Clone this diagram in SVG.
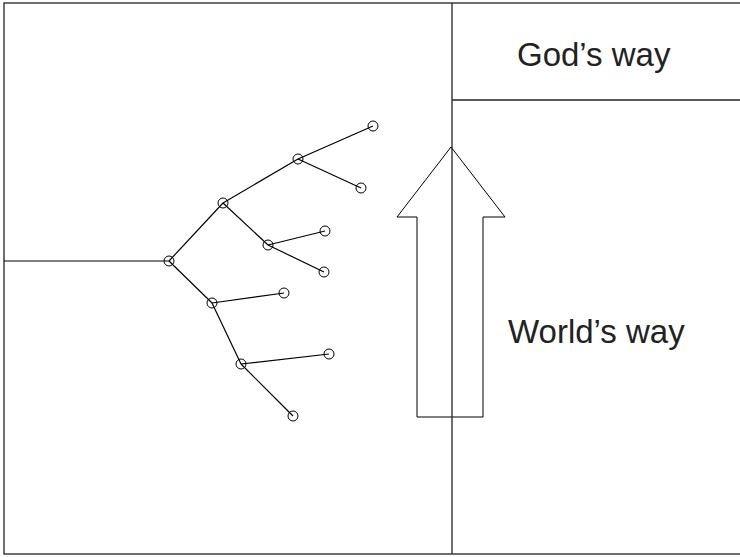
<svg xmlns="http://www.w3.org/2000/svg" width="740" height="557" viewBox="0 0 740 557">
<style>
.frame{fill:none;stroke:#222;stroke-width:1.3}
.edge{stroke:#000;stroke-width:1.2;fill:none}
.node{fill:none;stroke:#000;stroke-width:1}
.arrow{fill:#fff;stroke:#000;stroke-width:1}
.lbl{font-family:"Liberation Sans",Arial,sans-serif;font-size:33px;fill:#222}
</style>
<rect width="740" height="557" fill="#fff"/>
<g id="frame">
<rect class="frame" x="4" y="3" width="745" height="551"/>
<line class="frame" x1="452" y1="100" x2="745" y2="100"/>
</g>
<g id="worlds-way-arrow">
<polygon class="arrow" points="451,147 505,217 483,217 483,417 417,417 417,217 397,217"/>
</g>
<line class="frame" x1="452" y1="3" x2="452" y2="554"/>
<g id="connectors">
<line class="edge" x1="4" y1="261" x2="169" y2="261"/>
<line class="edge" x1="169" y1="261" x2="223" y2="203"/>
<line class="edge" x1="223" y1="203" x2="298" y2="159"/>
<line class="edge" x1="298" y1="159" x2="373" y2="126"/>
<line class="edge" x1="298" y1="159" x2="361" y2="188"/>
<line class="edge" x1="223" y1="203" x2="268" y2="245"/>
<line class="edge" x1="268" y1="245" x2="325" y2="231"/>
<line class="edge" x1="268" y1="245" x2="324" y2="272"/>
<line class="edge" x1="169" y1="261" x2="212" y2="303"/>
<line class="edge" x1="212" y1="303" x2="284" y2="293"/>
<line class="edge" x1="212" y1="303" x2="241" y2="364"/>
<line class="edge" x1="241" y1="364" x2="329" y2="354"/>
<line class="edge" x1="241" y1="364" x2="293" y2="416"/>
</g>
<g id="n-root"><circle class="node" cx="169" cy="261" r="5"/></g>
<g id="n-a"><circle class="node" cx="223" cy="203" r="5"/></g>
<g id="n-b"><circle class="node" cx="298" cy="159" r="5"/></g>
<g id="n-b1"><circle class="node" cx="373" cy="126" r="5"/></g>
<g id="n-b2"><circle class="node" cx="361" cy="188" r="5"/></g>
<g id="n-c"><circle class="node" cx="268" cy="245" r="5"/></g>
<g id="n-c1"><circle class="node" cx="325" cy="231" r="5"/></g>
<g id="n-c2"><circle class="node" cx="324" cy="272" r="5"/></g>
<g id="n-d"><circle class="node" cx="212" cy="303" r="5"/></g>
<g id="n-d1"><circle class="node" cx="284" cy="293" r="5"/></g>
<g id="n-e"><circle class="node" cx="241" cy="364" r="5"/></g>
<g id="n-e1"><circle class="node" cx="329" cy="354" r="5"/></g>
<g id="n-e2"><circle class="node" cx="293" cy="416" r="5"/></g>
<g id="gods-way"><text class="lbl" x="517" y="66">God’s way</text></g>
<g id="worlds-way"><text class="lbl" x="508" y="343">World’s way</text></g>
</svg>
